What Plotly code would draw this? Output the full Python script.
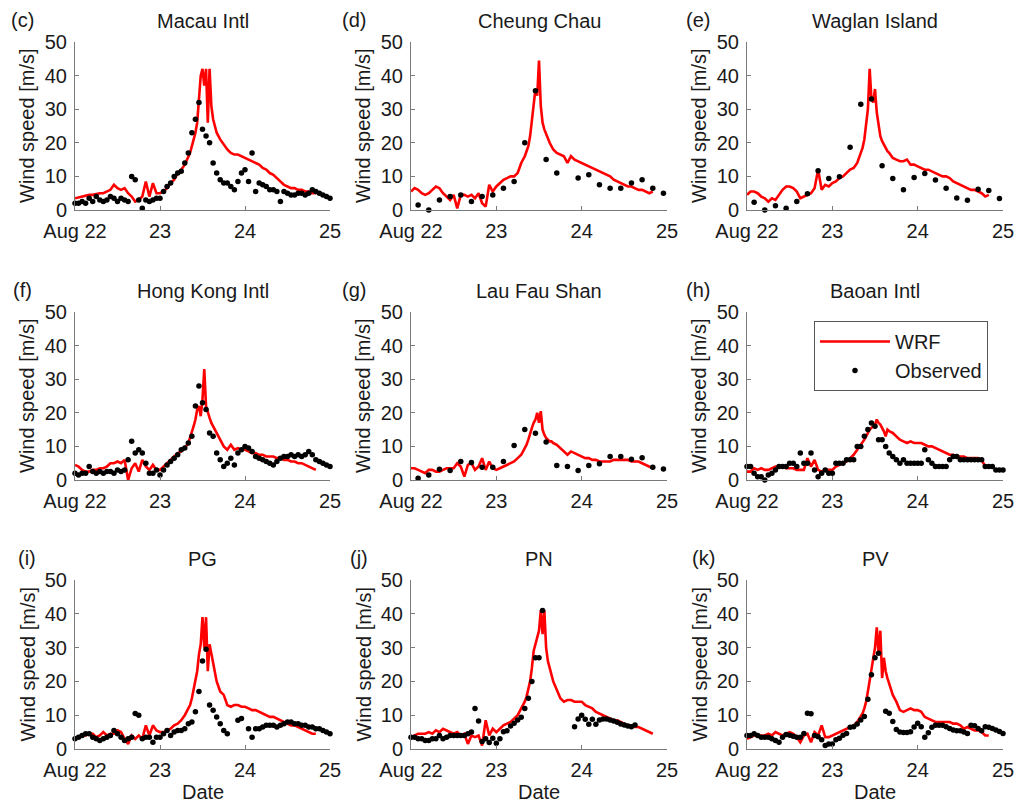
import plotly.graph_objects as go

# ---------------- data ----------------
stations = ["Macau Intl", "Cheung Chau", "Waglan Island",
            "Hong Kong Intl", "Lau Fau Shan", "Baoan Intl",
            "PG", "PN", "PV"]
panel_tags = ["(c)", "(d)", "(e)", "(f)", "(g)", "(h)", "(i)", "(j)", "(k)"]

tick_vals = [22, 23, 24, 25]
tick_text = ["Aug 22", "23", "24", "25"]
y_ticks = [0, 10, 20, 30, 40, 50]

# hours since Aug 22 00:00 for the WRF series (half-hourly around the peak)
wrf_hours = list(range(0, 33)) + [32.5 + 0.5 * i for i in range(16)] + list(range(41, 69))
obs_hours_1h = list(range(0, 73))
obs_hours_3h = list(range(2, 72, 3))

wrf_macau = [3.5, 3.8, 4, 4.3, 4.5, 4.5, 4.8, 5, 5, 5.5, 6, 7.5, 6.5, 6, 6.5, 5, 4, 2.5, 3, 4,
             8.5, 4, 8, 5, 5, 5.5, 6.5, 8, 9, 11, 12, 13.5, 16,
             17, 19, 21, 23, 26, 33, 40, 42, 37, 42, 26, 42, 31, 27, 24.5, 23,
             21, 19.5, 18, 17, 16.5, 16.5, 16, 15.5, 15, 14.5, 14, 13.5, 12.5, 12, 11, 10.5,
             9.5, 8.5, 7.5, 7, 6.5, 6.5, 6, 6, 5.5, 5.5, 5, 5]
wrf_cheung = [5.5, 6.5, 6, 5, 4.5, 5, 6, 7, 6.5, 5, 4, 3, 4.5, 0.5, 4.5, 4.5, 4, 4.5, 3.5, 5,
              2, 1, 7.5, 5.5, 7, 8, 9, 9.5, 10, 10, 11, 14, 16,
              17.5, 19, 22, 27, 33, 36, 34, 44.5, 31, 26, 24, 22.5, 21.5, 20, 19, 18,
              17, 16.5, 16, 14, 16, 15, 14.5, 14, 13.5, 13, 12.5, 12, 11.5, 11, 10.5, 10,
              9, 8.5, 8, 7.5, 7, 7, 6.5, 6, 6, 5.5, 5, 5.5]
wrf_waglan = [4.5, 5.5, 5.5, 5, 4, 3.5, 2.5, 3.5, 3, 4.5, 6, 7, 7, 6.5, 5.5, 3.5, 4, 4.5, 5, 6.5,
              12, 6, 7.5, 7, 8, 8.5, 9.5, 10, 11, 12, 12.5, 14, 17,
              18.5, 21, 25, 30, 42, 33, 32, 36, 29, 25, 22, 20.5, 19.5, 18.5, 17.5, 17,
              15.5, 15, 14.5, 14.5, 15, 13.5, 13.5, 13, 12.5, 12, 12, 11.5, 11, 10.5, 10, 10,
              9.5, 8.5, 8, 7.5, 7, 6.5, 6, 6, 5.5, 5, 4, 4.5]
wrf_hkia = [4.5, 4, 3, 2.5, 2.5, 3, 3, 3.5, 3.5, 4, 5, 5, 5.5, 5, 6, 0, 3.5, 5, 2.5, 6,
            4, 3, 4.5, 3, 3, 4, 5, 6, 7, 8, 8.5, 9.5, 11,
            12.5, 14, 16, 18, 21, 22, 19, 24, 33, 22, 20, 18.5, 17, 16, 15, 14,
            12, 10, 9, 10.5, 9, 9.5, 9, 9, 8.5, 8, 8, 7.5, 7.5, 7, 7, 7,
            6.5, 6.5, 6, 6, 5.5, 5.5, 5, 5, 4.5, 4, 3.5, 3]
wrf_lfs = [3.5, 3.5, 3, 2.5, 2, 3, 3, 2.5, 2.5, 3, 3.5, 3.5, 3.5, 5, 4, 1, 4.5, 5, 3, 4,
           6.5, 3, 5.5, 3.5, 3, 3.5, 4, 4.5, 5, 5.5, 6.5, 7.5, 9.5,
           10.5, 12, 14, 15.5, 17, 18, 20, 17, 20.5, 15, 13.5, 12.5, 12, 11.5, 11.5, 11,
           10.5, 9.5, 8.5, 7.5, 8.5, 8, 7.5, 7, 6.5, 6.5, 6, 6, 5.5, 5.5, 5.5, 5.5,
           6, 6, 6, 6, 6, 5.5, 5.5, 5.5, 5, 4.5, 4, 3.5]
wrf_baoan = [2.5, 2.5, 3.5, 3, 3.5, 3, 3, 3.5, 4, 4, 4, 3.5, 3.5, 3.5, 3, 3, 3, 6.5, 4, 6,
             3, 2.5, 3, 3, 3, 4, 4.5, 5, 5.5, 6.5, 7.5, 9, 10.5,
             11, 12, 13, 14, 15, 15.5, 16, 16.5, 18, 17, 16.5, 15.5, 14.5, 13, 15, 14.5,
             14, 13, 12, 11.5, 11, 11.5, 11, 11, 11, 10.5, 10, 10, 9.5, 9, 8.5, 8,
             7.5, 7.5, 7, 7, 7, 6.5, 6.5, 6.5, 6.5, 6, 4, 4]
wrf_pg = [3, 3.5, 4, 4, 4.5, 4.5, 3.5, 4, 5, 4, 4.5, 4.5, 5.5, 5, 3, 1.5, 4, 3, 4, 3,
          7, 4, 7, 5.5, 5, 5, 5.5, 6, 7, 7.5, 8.5, 10, 12,
          13, 15, 18, 20, 23, 28, 31, 39, 30, 39, 23, 31, 28, 25, 22, 20,
          17, 16, 13, 12.5, 13, 13, 12.5, 12.5, 12, 11.5, 11.5, 11, 10.5, 10, 9.5, 9.5,
          9, 8.5, 8, 7.5, 7, 7, 6.5, 6, 5.5, 5, 4.5, 4.5]
wrf_pn = [3.5, 4, 4.5, 4.5, 4.5, 5, 4.5, 5.5, 5, 6, 5.5, 5, 4.5, 5, 4, 4.5, 1.5, 4, 3.5, 4,
          1, 8.5, 4, 6, 5, 6, 7, 7.5, 8, 9, 10, 12, 14,
          15.5, 18, 20, 24, 29, 31, 33, 35, 41, 34, 41, 30, 26, 24, 22, 20,
          17.5, 15, 14, 14.5, 14.5, 14, 14, 14, 13, 12.5, 12, 11, 10.5, 10, 9.5, 9,
          8.5, 8.5, 8, 7.5, 7, 7, 6.5, 6.5, 6, 5.5, 5, 4.5]
wrf_pv = [3, 3.5, 4, 4, 4, 4, 4.5, 4, 5, 4.5, 4, 4.5, 5, 4.5, 3.5, 2, 4, 4.5, 2, 5,
          4, 7, 3.5, 3.5, 4, 4.5, 5, 5.5, 6, 6.5, 7, 8, 9.5,
          10.5, 12, 14, 17, 20, 24, 27, 30, 36, 28, 35, 21, 27, 23, 21, 19.5,
          16, 14, 11.5, 11, 11.5, 12, 11.5, 11.5, 11, 9.5, 9, 8.5, 8, 8, 8, 8,
          8, 7.5, 7.5, 7, 6, 6.5, 6, 5.5, 5.5, 5, 4, 4]

obs_macau = [2, 2, 2.5, 2, 3.5, 2.5, 4, 3, 2.5, 3,
             4, 3.5, 2.5, 3.5, 3, 2.5, 10, 9, 3, 0.5,
             3, 2.5, 3, 3.5, 3.5, 5.5, 7, 8, 10, 11,
             11.5, 14, 17, 23, 27, 32, 24, 22, 20, 14,
             11, 9, 8, 8, 7, 6, 8.5, 11, 12, 8.5,
             17, 5.5, 8, 7.5, 7, 6, 6, 5.5, 2.5, 5.5,
             5, 4.5, 4.5, 5, 5, 4.5, 5, 6, 5.5, 5,
             4.5, 4, 3.5]
obs_cheung = [1.5, 0, 3, 4, 4.5, 2.5, 4, 4.5, 6.5, 8.5, 20, 35.5,
              15, 11, None, 9.5, 10.5, 7.5, 6.5, 6.5, 8, 9, 6.5, 5]
obs_waglan = [2.3, 0, 1.3, 0.5, 2.5, 4.8, 11.7, 9.4, 9.9, 18.7, 31.5, 33,
              13.2, 9.4, 6, 9.7, 10.9, 8.9, 6.5, 3.6, 2.9, 6.2, 5.8, 3.4]
obs_hkia = [2, 1.5, 2, 2, 4, 2.5, 2, 2.5, 2, 2.5,
            2.5, 2, 3, 2.5, 3, 6, 11.5, 8, 9, 8,
            5, 2, 2, 3, 1.5, 3, 4.5, 5.5, 6.5, 7.5,
            9, 9.5, 11, 13, 22, 28, 23, 21, 14, 13,
            8, 6, 4, 5, 6.5, 4.5, 8, 9, 10, 9.5,
            8.5, 7, 6.5, 6, 5.5, 5, 4.5, 5.5, 6.5, 7,
            7, 7.5, 7, 7.5, 7, 7.5, 8.5, 7.5, 6, 5.5,
            5, 4.5, 4]
obs_lfs = [0.5, 1.5, 3.2, 2.8, 5.5, 5.2, 3.8, 3.8, 5.5, 10.3, 15, 13.9,
           11.3, 4.3, 4, 2.8, 4.3, 4.8, 7, 7, 6.2, 6.6, 3.8, 3.3]
obs_baoan = [4, 4, 2, 1, 1, 0, 1.5, 2, 3, 4,
             4, 4, 5, 5, 4, 8, 5, 5, 8, 3,
             1, 2, 3, 2, 2, 5, 5, 5, 6, 6,
             6, 10, 10, 13, 15, 17, 16, 12, 12, 10,
             8, 7, 6, 5, 6, 5, 5, 5, 5, 5,
             9, 6, 5, 4, 4, 4, 4, 6, 7, 7,
             6, 6, 6, 6, 6, 6, 6, 4, 4, 4,
             3, 3, 3]
obs_pg = [3, 3.5, 4, 4.5, 4.5, 3.5, 3, 2.5, 3, 3.5,
          4, 5.5, 4.5, 3.5, 2.5, 3, 3.5, 10.5, 10, 3,
          3.5, 3.5, 2, 3.5, 3.5, 4.5, 5.5, 4, 5, 5.5,
          5.5, 6, 7.5, 8, 11, 17, 26, 29.5, 13, 11.5,
          9.5, 7.5, 5.5, 4.5, None, None, 8.5, 9, None, 6,
          3.5, 6, 6, 6.5, 7, 7, 7, 6.5, 7, 7.5,
          8, 8, 7.5, 7.5, 7, 7, 6.5, 6.5, 6, 6,
          5.5, 5, 4.5]
obs_pn = [3.5, 3.5, 3, 3, 2.5, 2.5, 3, 3, 4, 3,
          3.5, 4, 4, 4, 4, 4, 4.5, 5, 12, 8.3,
          2.2, 3, 1.9, 3.2, 1.7, 3, 5.1, 5.4, 6.8, 7.6,
          8.6, 9.4, 12, 15, 20, 27, 27, 41, None, None,
          None, None, None, None, None, None, 6.6, 8.9, 10, 8.8,
          7.3, 8.8, 7.3, 8.6, 8.9, 8.9, 8.6, 8.3, 7.9, 7.4,
          7.1, 6.8, 6.6, 7.1, None, None, None, None, None, None,
          None, None, None]
obs_pv = [4, 4, 4.5, 4, 3.5, 3.5, 3.5, 3, 2.5, 2,
          3.5, 4.3, 4.1, 3.8, 3.5, 3.5, 4.6, 10.6, 10.4, 4,
          3.6, 2.7, 1, 1.5, 1.5, 2.7, 3.2, 4.1, 4.6, 6.4,
          6.6, 7.4, 8.6, 9.6, 14.7, 22, 27, 28.3, None, 11.2,
          10.6, 8.1, 5.8, 5, 4.9, 4.9, 5.1, 6.5, 7.6, 6.6,
          3.5, 4.8, 6.4, 7, 7, 7, 6.6, 6.1, 5.6, 5.4,
          5.4, 5, 4.6, 7, 6.9, 6.1, 5.4, 6.6, 6.4, 6.1,
          5.6, 5.2, 4.6]

wrf_series = [wrf_macau, wrf_cheung, wrf_waglan, wrf_hkia, wrf_lfs, wrf_baoan,
              wrf_pg, wrf_pn, wrf_pv]
obs_series = [obs_macau, obs_cheung, obs_waglan, obs_hkia, obs_lfs, obs_baoan,
              obs_pg, obs_pn, obs_pv]
obs_times = [obs_hours_1h, obs_hours_3h, obs_hours_3h, obs_hours_1h, obs_hours_3h,
             obs_hours_1h, obs_hours_1h, obs_hours_1h, obs_hours_1h]

# ---------------- layout geometry (pixels) ----------------
W, H = 1018, 805
col_px = [(75, 330), (411, 667), (747, 1003)]
row_px = [(42, 210), (312, 480), (580, 749)]
FONT = "Liberation Sans, Arial, sans-serif"
FS = 20
AXC = "#7a7a7a"
TXT = "#1a1a1a"


def px_x(p):
    return p / W


def px_y(p):
    return 1 - p / H


fig = go.Figure()
annotations = []
layout = {}

for i in range(9):
    r, c = divmod(i, 3)
    n = i + 1
    xa = "x" if n == 1 else f"x{n}"
    ya = "y" if n == 1 else f"y{n}"
    x0, x1 = col_px[c]
    y0, y1 = row_px[r]

    fig.add_trace(go.Scatter(
        x=[22 + h / 24 for h in wrf_hours], y=wrf_series[i],
        mode="lines", line=dict(color="#ff0000", width=2.6),
        name="WRF", legendgroup="wrf", showlegend=(i == 0),
        xaxis=xa, yaxis=ya))
    fig.add_trace(go.Scatter(
        x=[22 + h / 24 for h in obs_times[i]], y=obs_series[i],
        mode="markers", marker=dict(color="black", size=5.5),
        name="Observed", legendgroup="obs", showlegend=(i == 0),
        cliponaxis=False, xaxis=xa, yaxis=ya))

    common = dict(showline=True, linecolor=AXC, linewidth=1, ticks="inside",
                  ticklen=4, tickcolor=AXC, showgrid=False, zeroline=False,
                  automargin=False,
                  tickfont=dict(family=FONT, size=FS, color=TXT))
    layout["xaxis" if n == 1 else f"xaxis{n}"] = dict(
        domain=[px_x(x0), px_x(x1)], range=[22, 25], tickvals=tick_vals,
        ticktext=tick_text, anchor=ya, ticklabelstandoff=3, **common)
    layout["yaxis" if n == 1 else f"yaxis{n}"] = dict(
        domain=[px_y(y1), px_y(y0)], range=[0, 50], tickvals=y_ticks,
        anchor=xa, ticklabelstandoff=3, **common)

    # station title
    annotations.append(dict(text=stations[i], x=px_x((x0 + x1) / 2), y=px_y(y0 - 21),
                            xref="paper", yref="paper", showarrow=False,
                            xanchor="center", yanchor="middle",
                            font=dict(family=FONT, size=FS, color=TXT)))
    # panel tag
    tag_x = [22, 354, 698][c] + (5 if r == 2 else 0)
    annotations.append(dict(text=panel_tags[i], x=px_x(tag_x), y=px_y(y0 - 22),
                            xref="paper", yref="paper", showarrow=False,
                            xanchor="center", yanchor="middle",
                            font=dict(family=FONT, size=FS, color=TXT)))
    # y-axis title
    annotations.append(dict(text="Wind speed [m/s]", x=px_x(x0 - 48), y=px_y((y0 + y1) / 2),
                            xref="paper", yref="paper", showarrow=False, textangle=-90,
                            xanchor="center", yanchor="middle",
                            font=dict(family=FONT, size=FS, color=TXT)))
    if r == 2:
        annotations.append(dict(text="Date", x=px_x((x0 + x1) / 2), y=px_y(792),
                                xref="paper", yref="paper", showarrow=False,
                                xanchor="center", yanchor="middle",
                                font=dict(family=FONT, size=FS, color=TXT)))

fig.update_layout(
    **layout,
    template="none",
    width=W, height=H, margin=dict(l=0, r=0, t=0, b=0, pad=0, autoexpand=False),
    paper_bgcolor="white", plot_bgcolor="white",
    annotations=annotations,
    legend=dict(x=px_x(814), y=px_y(321), xanchor="left", yanchor="top",
                bgcolor="white", bordercolor="#555555", borderwidth=1,
                itemwidth=70,
                font=dict(family=FONT, size=FS, color=TXT), tracegroupgap=0),
)

fig.write_html("out.html", config={"displayModeBar": False},
               post_script="document.body.style.margin='0px';")
